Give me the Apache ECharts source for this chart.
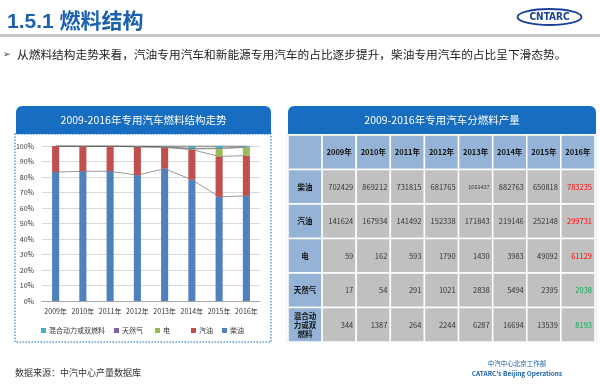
<!DOCTYPE html>
<html><head><meta charset="utf-8">
<script src="https://cdn.jsdelivr.net/npm/echarts@6/dist/echarts.min.js"></script>
<style>html,body{margin:0;padding:0;background:#fff}#c{width:600px;height:386px}</style>
</head><body><div id="c"></div>
<script>
const years = ['2009年','2010年','2011年','2012年','2013年','2014年','2015年','2016年'];
const fuelNames = ['柴油','汽油','电','天然气','混合动力或双燃料'];
const diesel   = [702429, 869212, 731815, 681765, 1061437, 882763, 650818, 783235];
const gasoline = [141624, 167934, 141492, 152338, 171843, 219146, 252148, 299731];
const electric = [59, 162, 593, 1790, 1430, 3983, 49092, 61129];
const natgas   = [17, 54, 291, 1021, 2838, 5494, 2395, 2038];
const hybrid   = [344, 1387, 264, 2244, 6287, 16694, 13539, 8193];

const FONT = '"Noto Sans CJK SC","Noto Sans",sans-serif';
const colors = ['#4F81BD','#C0504D','#9BBB59','#8064A2','#4BACC6'];
const rows = [diesel, gasoline, electric, natgas, hybrid];
const totals = years.map((_, i) => rows.reduce((s, r) => s + r[i], 0));
const pct = rows.map(r => r.map((v, i) => v / totals[i] * 100));

// table cells
const rowLabels = ['柴油','汽油','电','天然气','混合动\n力或双\n燃料'];
const highlight = {'0-7':'#FF0000','1-7':'#FF0000','2-7':'#FF0000','3-7':'#00B050','4-7':'#00B050'};
const cells = [];
cells.push({value:[0,0], text:'', kind:'head'});
years.forEach((y, i) => cells.push({value:[i+1,0], text:y, kind:'head'}));
rows.forEach((r, ri) => {
  cells.push({value:[0, ri+1], text:rowLabels[ri], kind:'label'});
  r.forEach((v, ci) => cells.push({value:[ci+1, ri+1], text:String(v), kind:'num',
    color: highlight[ri+'-'+ci] || '#333', small: v > 999999}));
});

const chart = echarts.init(document.getElementById('c'));
const barSeries = fuelNames.map((n, k) => ({
  name: n, type: 'bar', stack: 'fuel', barWidth: '26%', z: 3,
  itemStyle: {color: colors[k]}, data: pct[k],
  xAxisIndex: 0, yAxisIndex: 0
}));
const lineSeries = fuelNames.map((n, k) => ({
  type: 'line', stack: 'lines', z: 2, symbol: 'none', silent: true,
  lineStyle: {color: k === 4 ? '#404040' : '#7F7F7F', width: 0.8}, data: pct[k],
  xAxisIndex: 0, yAxisIndex: 0
}));

const legendOrder = ['混合动力或双燃料','天然气','电','汽油','柴油'];
const legendLeft = [41, 114, 155, 191, 222];
const legends = legendOrder.map((n, i) => ({
  data: [n], left: legendLeft[i], top: 327, itemWidth: 5, itemHeight: 5, itemGap: 3,
  icon: 'rect', selectedMode: false, padding: 0,
  textStyle: {fontSize: 7, color: '#333', fontFamily: FONT, padding: [0,0,0,-2]}
}));

chart.setOption({
  animation: false,
  textStyle: {fontFamily: FONT},
  title: [
    {text: '1.5.1 燃料结构', left: 2, top: 7, textStyle: {color: '#1A62B0', fontSize: 21, fontWeight: 'bold',
      fontFamily: '"Liberation Sans","Noto Sans CJK SC",sans-serif'}}
  ],
  legend: legends,
  grid: [
    {left: 42, right: 340, top: 146, bottom: 85, containLabel: false},
    {left: 288, right: 5, top: 135, bottom: 44, containLabel: false}
  ],
  xAxis: [
    {type: 'category', data: years, gridIndex: 0,
      axisLine: {lineStyle: {color: '#A6A6A6'}}, axisTick: {show: false},
      axisLabel: {fontSize: 7, color: '#333', margin: 7, interval: 0}},
    {type: 'category', data: ['', ...years], gridIndex: 1, show: false}
  ],
  yAxis: [
    {type: 'value', min: 0, max: 100, interval: 10, gridIndex: 0,
      axisLabel: {fontSize: 7, color: '#333', formatter: '{value}%', margin: 8},
      splitLine: {lineStyle: {color: '#D9D9D9'}}, axisLine: {show: false}, axisTick: {show: false}},
    {type: 'category', data: ['h', ...fuelNames], gridIndex: 1, inverse: true, show: false}
  ],
  series: [...barSeries, ...lineSeries, {
    type: 'custom', xAxisIndex: 1, yAxisIndex: 1, silent: true,
    data: cells,
    renderItem(params, api) {
      const cell = cells[params.dataIndex];
      const c = api.coord([api.value(0), api.value(1)]);
      const s = api.size([1, 1]);
      const x0 = c[0] - s[0]/2, y0 = c[1] - s[1]/2;
      const isBlue = cell.kind !== 'num';
      const children = [{type: 'rect', shape: {x: x0, y: y0, width: s[0], height: s[1]},
        style: {fill: isBlue ? '#95B3D7' : '#C0C0C0', stroke: '#fff', lineWidth: 1.5}}];
      if (cell.text) {
        if (cell.kind === 'num') {
          children.push({type: 'text', style: {text: cell.text, x: x0 + s[0] - 3, y: c[1],
            align: 'right', verticalAlign: 'middle', fill: cell.color,
            font: (cell.small ? '5.5px ' : '7.5px ') + FONT}});
        } else {
          children.push({type: 'text', style: {text: cell.text, x: c[0], y: c[1],
            align: 'center', verticalAlign: 'middle', fill: '#111', lineHeight: 9,
            font: 'bold 7.5px ' + FONT}});
        }
      }
      return {type: 'group', children};
    }
  }],
  graphic: [
    {type: 'rect', shape: {x: 0, y: 34, width: 600, height: 3}, style: {fill: '#C8C8C8'}},
    {type: 'ellipse', shape: {cx: 549.5, cy: 17, rx: 32, ry: 8}, style: {fill: 'none', stroke: '#1A3F9A', lineWidth: 1.8}},
    {type: 'text', style: {text: 'CNTARC', x: 549.5, y: 17.5, align: 'center', verticalAlign: 'middle',
      fill: '#1A3F9A', font: 'bold 10px "DejaVu Sans Condensed","DejaVu Sans"'}},
    {type: 'text', style: {text: '➢', x: 3, y: 55, verticalAlign: 'middle', fill: '#333', font: '9px "DejaVu Sans"'}},
    {type: 'text', style: {text: '从燃料结构走势来看，汽油专用汽车和新能源专用汽车的占比逐步提升，柴油专用汽车的占比呈下滑态势。',
      x: 17, y: 55, verticalAlign: 'middle', fill: '#222', font: '11.7px ' + FONT}},
    {type: 'rect', shape: {x: 16, y: 106, width: 255, height: 28, r: [6,6,0,0]}, style: {fill: '#176EC0'}},
    {type: 'text', style: {text: '2009-2016年专用汽车燃料结构走势', x: 143.5, y: 120, align: 'center', verticalAlign: 'middle',
      fill: '#fff', font: '10.5px ' + FONT}},
    {type: 'rect', shape: {x: 288, y: 106, width: 308, height: 28, r: [6,6,0,0]}, style: {fill: '#176EC0'}},
    {type: 'text', style: {text: '2009-2016年专用汽车分燃料产量', x: 442, y: 120, align: 'center', verticalAlign: 'middle',
      fill: '#fff', font: '10.5px ' + FONT}},
    {type: 'rect', shape: {x: 15, y: 134, width: 256, height: 208},
      style: {fill: 'none', stroke: '#5B9BD5', lineWidth: 1.5, lineDash: [1.5, 1.5]}, z: -1},
    {type: 'rect', shape: {x: 287, y: 134, width: 309, height: 208},
      style: {fill: 'none', stroke: '#9DC3E6', lineWidth: 1, lineDash: [1, 1]}, z: -1},
    {type: 'text', style: {text: '数据来源：中汽中心产量数据库', x: 15, y: 373, verticalAlign: 'middle',
      fill: '#333', font: '9px ' + FONT}},
    {type: 'text', style: {text: '中汽中心北京工作部', x: 517, y: 364, align: 'center', verticalAlign: 'middle',
      fill: '#1A62B0', font: '6.5px ' + FONT}},
    {type: 'text', style: {text: "CATARC's Beijing Operations", x: 517, y: 374, align: 'center', verticalAlign: 'middle',
      fill: '#1A62B0', font: 'bold 6.5px ' + FONT}}
  ]
});
</script></body></html>
